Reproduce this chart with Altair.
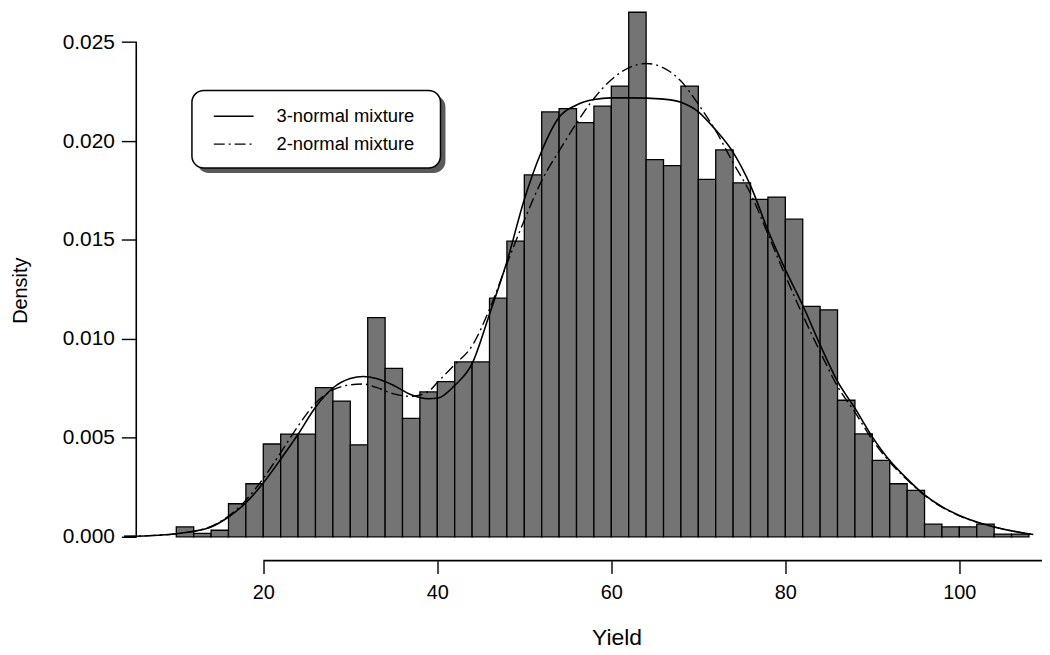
import altair as alt
import pandas as pd

# ---------------- data ----------------
bin_left = list(range(10, 108, 2))          # histogram bins, width 2
density = [
    0.00050, 0.00017, 0.00033, 0.00167, 0.00268,   # 10-18
    0.00469, 0.00519, 0.00519, 0.00754, 0.00686,   # 20-28
    0.00465, 0.01108, 0.00851, 0.00599, 0.00732,   # 30-38
    0.00784, 0.00884, 0.00884, 0.01206, 0.01494,   # 40-48
    0.01829, 0.02147, 0.02164, 0.02093, 0.02177,   # 50-58
    0.02278, 0.02651, 0.01906, 0.01876, 0.02278,   # 60-68
    0.01806, 0.01955, 0.01789, 0.01705, 0.01717,   # 70-78
    0.01605, 0.01164, 0.01147, 0.00690, 0.00520,   # 80-88
    0.00386, 0.00268, 0.00235, 0.00064, 0.00050,   # 90-98
    0.00050, 0.00064, 0.00014, 0.00014,            # 100-106
]

curve_x = [4, 8, 10, 12, 14, 16, 18, 20, 22, 24, 26, 28, 30, 31.5, 33, 35, 37,
           39, 40, 42, 44, 46, 48, 50, 52, 54, 56, 58, 60, 62, 64, 66, 68, 70,
           72, 74, 76, 78, 80, 82, 84, 86, 88, 90, 92, 94, 96, 98, 100, 102,
           104, 106, 108.5]
three_normal = [0.00002, 0.00008, 0.00015, 0.00028, 0.00050, 0.00100, 0.00172,
                0.00272, 0.00392, 0.00518, 0.00655, 0.00752, 0.00800, 0.00810,
                0.00800, 0.00765, 0.00718, 0.00698, 0.00700, 0.00765, 0.00875,
                0.01125, 0.01390, 0.01705, 0.01950, 0.02120, 0.02182, 0.02210,
                0.02218, 0.02218, 0.02217, 0.02212, 0.02196, 0.02148, 0.02056,
                0.01943, 0.01775, 0.01549, 0.01350, 0.01170, 0.00970, 0.00785,
                0.00650, 0.00505, 0.00385, 0.00293, 0.00212, 0.00152, 0.00108,
                0.00075, 0.00050, 0.00030, 0.00012]
two_normal = [0.00002, 0.00008, 0.00015, 0.00028, 0.00052, 0.00105, 0.00185,
              0.00295, 0.00425, 0.00560, 0.00675, 0.00742, 0.00768, 0.00772,
              0.00755, 0.00722, 0.00710, 0.00735, 0.00780, 0.00870, 0.00965,
              0.01150, 0.01380, 0.01600, 0.01800, 0.01950, 0.02090, 0.02215,
              0.02310, 0.02370, 0.02392, 0.02370, 0.02303, 0.02186, 0.02052,
              0.01890, 0.01735, 0.01530, 0.01320, 0.01120, 0.00935, 0.00760,
              0.00630, 0.00490, 0.00378, 0.00288, 0.00210, 0.00150, 0.00106,
              0.00074, 0.00050, 0.00030, 0.00012]

legend_labels = ["3-normal mixture", "2-normal mixture"]
x_ticks = [20, 40, 60, 80, 100]
y_ticks = [0.000, 0.005, 0.010, 0.015, 0.020, 0.025]

# ---------------- layout ----------------
W, H = 911, 528
XMIN, XMAX = 5.4, 109.5
YMAX = 0.02653
FONT = "Liberation Sans"

hist = pd.DataFrame({"lo": bin_left,
                     "hi": [b + 2 for b in bin_left],
                     "density": density})
c3 = pd.DataFrame({"x": curve_x, "y": three_normal})
c2 = pd.DataFrame({"x": curve_x, "y": two_normal})
yax = pd.DataFrame({"y0": [y_ticks[0]], "y1": [y_ticks[-1]]})
xax = pd.DataFrame({"x0": [x_ticks[0]]})
one = pd.DataFrame({"k": [0]})

xs = alt.Scale(domain=[XMIN, XMAX], nice=False, zero=False)
ys = alt.Scale(domain=[0, YMAX], nice=False, zero=True)

x_axis = alt.Axis(values=x_ticks, offset=24, domain=False, grid=False,
                  tickSize=13, tickWidth=1.4, tickColor="black",
                  labelFont=FONT, labelFontSize=20, labelColor="black",
                  labelPadding=9, title="Yield", titleFont=FONT,
                  titleFontSize=23, titleFontWeight="normal",
                  titleColor="black", titlePadding=24, titleX=483)
y_axis = alt.Axis(values=y_ticks, format=".3f", domain=False, grid=False,
                  tickSize=15, tickWidth=1.4, tickColor="black",
                  labelFont=FONT, labelFontSize=21, labelColor="black",
                  labelPadding=7, title="Density", titleFont=FONT,
                  titleFontSize=20, titleFontWeight="normal",
                  titleColor="black", titleX=-116, titleY=280,
                  titleAngle=270, titleAlign="center", titleBaseline="middle")

bars = alt.Chart(hist).mark_rect(fill="#747474", stroke="black",
                                 strokeWidth=1.3).encode(
    x=alt.X("lo:Q", scale=xs, axis=x_axis),
    x2="hi:Q",
    y=alt.Y("density:Q", scale=ys, axis=y_axis),
    y2=alt.datum(0),
)

line3 = alt.Chart(c3).mark_line(color="black", strokeWidth=1.6,
                                interpolate="monotone").encode(
    x=alt.X("x:Q", scale=xs), y=alt.Y("y:Q", scale=ys))
line2 = alt.Chart(c2).mark_line(color="black", strokeWidth=1.4,
                                strokeDash=[11, 4, 2, 4],
                                interpolate="monotone").encode(
    x=alt.X("x:Q", scale=xs), y=alt.Y("y:Q", scale=ys))

yrule = alt.Chart(yax).mark_rule(color="black", strokeWidth=1.6).encode(
    x=alt.value(0), y=alt.Y("y0:Q", scale=ys), y2="y1:Q")
xrule = alt.Chart(xax).mark_rule(color="black", strokeWidth=1.6).encode(
    x=alt.X("x0:Q", scale=xs), x2=alt.value(W), y=alt.value(H + 24))

# legend box with drop shadow
shadow = alt.Chart(one).mark_rect(fill="#5a5a5a", cornerRadius=12).encode(
    x=alt.value(61), x2=alt.value(311), y=alt.value(84), y2=alt.value(162))
box = alt.Chart(one).mark_rect(fill="white", stroke="black", strokeWidth=1.5,
                               cornerRadius=12).encode(
    x=alt.value(56), x2=alt.value(306), y=alt.value(79), y2=alt.value(157))
leg_solid = alt.Chart(one).mark_rule(color="black", strokeWidth=1.6).encode(
    x=alt.value(78), x2=alt.value(118), y=alt.value(105))
leg_dash = alt.Chart(one).mark_rule(color="black", strokeWidth=1.4,
                                    strokeDash=[11, 4, 2, 4]).encode(
    x=alt.value(78), x2=alt.value(118), y=alt.value(133))
leg_t1 = alt.Chart(one).mark_text(text=legend_labels[0], font=FONT,
                                  fontSize=18.5, align="left",
                                  baseline="middle", color="black").encode(
    x=alt.value(141), y=alt.value(105))
leg_t2 = alt.Chart(one).mark_text(text=legend_labels[1], font=FONT,
                                  fontSize=18.5, align="left",
                                  baseline="middle", color="black").encode(
    x=alt.value(141), y=alt.value(133))

chart = alt.layer(
    bars, line3, line2, yrule, xrule,
    shadow, box, leg_solid, leg_dash, leg_t1, leg_t2,
).properties(
    width=W, height=H,
    autosize=alt.AutoSizeParams(type="none"),
    padding={"left": 129, "top": 2, "right": 0, "bottom": 113},
    background="white",
).configure_view(stroke=None)

chart.save("out.html", embed_options={"renderer": "svg", "actions": False})
